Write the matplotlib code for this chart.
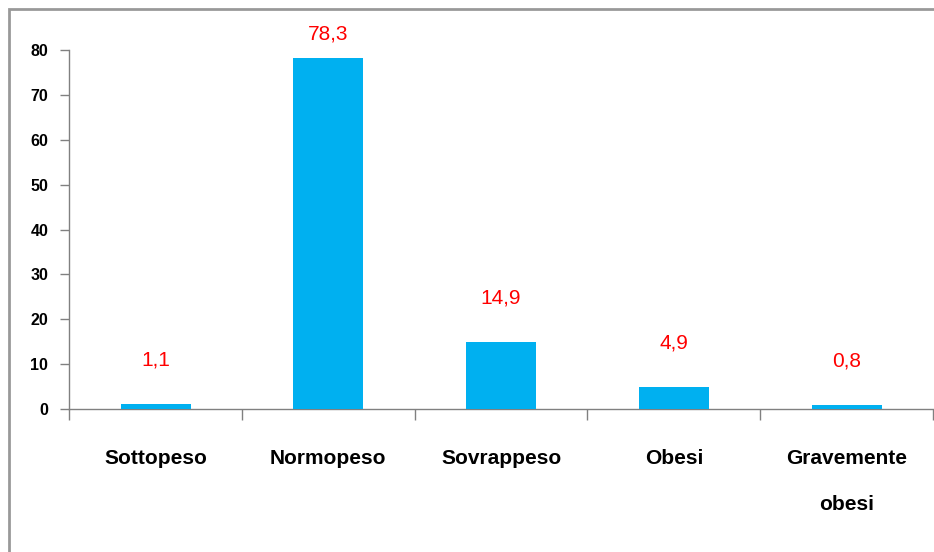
import numpy as np
import matplotlib.pyplot as plt
from matplotlib.patches import Rectangle

# dati
categorie = ['Sottopeso', 'Normopeso', 'Sovrappeso', 'Obesi', 'Gravemente\nobesi']
valori = [1.1, 78.3, 14.9, 4.9, 0.8]
etichette = ['1,1', '78,3', '14,9', '4,9', '0,8']
yticks = [0, 10, 20, 30, 40, 50, 60, 70, 80]

plt.rcParams['font.family'] = ['Liberation Sans', 'DejaVu Sans']

fig = plt.figure(figsize=(9.34, 5.52), dpi=100)
ax = fig.add_axes([0.074, 0.259, 0.925, 0.65])

x = np.arange(len(categorie))
ax.bar(x, valori, width=0.405, color='#00B0F0', zorder=3)

# etichette rosse sopra le barre
for xi, v, lab in zip(x, valori, etichette):
    ax.text(xi, min(v + 9.8, 83.7), lab, color='#FF0000', fontsize=15,
            ha='center', va='center', clip_on=False)

ax.set_xlim(-0.5, len(categorie) - 0.5)
ax.set_ylim(0, 80)

ax.set_yticks(yticks)
ax.set_yticklabels([str(t) for t in yticks], fontsize=11.5, fontweight='bold')
ax.tick_params(axis='y', length=6.5, width=1, color='#808080', pad=8.5)

# tacche dell'asse x sui confini delle categorie
ax.set_xticks(x)
ax.set_xticklabels(categorie, fontsize=15, fontweight='bold', linespacing=2.75, va='top')
ax.tick_params(axis='x', which='major', length=0, pad=29)
ax.set_xticks(np.arange(len(categorie) + 1) - 0.5, minor=True)
ax.tick_params(axis='x', which='minor', length=8, width=1, color='#808080')

for s in ['top', 'right']:
    ax.spines[s].set_visible(False)
for s in ['left', 'bottom']:
    ax.spines[s].set_color('#808080')
    ax.spines[s].set_linewidth(1)

# cornice grigia attorno al grafico
fig.patches.append(Rectangle((9 / 934, -0.1), 1.2, 1 - 9 / 552 + 0.1,
                             transform=fig.transFigure, fill=False,
                             edgecolor='#999999', linewidth=2))

fig.savefig('out.png', dpi=100)
